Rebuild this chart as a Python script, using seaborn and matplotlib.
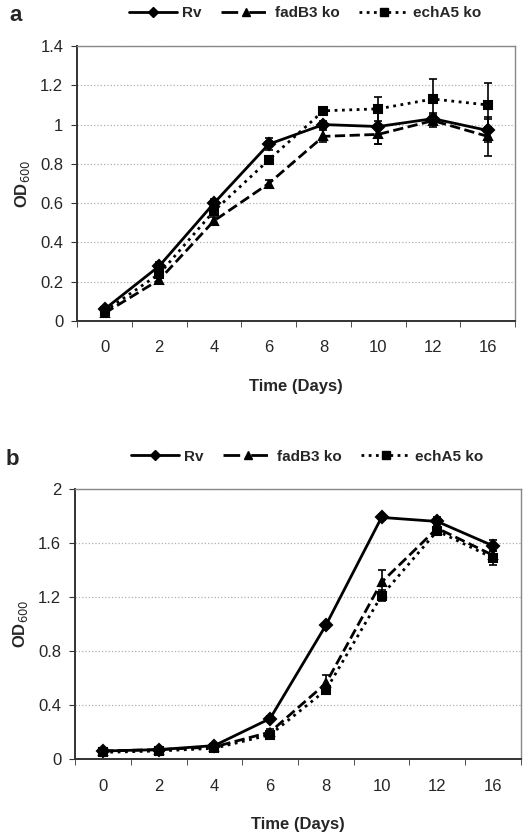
import numpy as np
import pandas as pd
import matplotlib
matplotlib.use('Agg')
import matplotlib.pyplot as plt
import seaborn as sns

days = ['0', '2', '4', '6', '8', '10', '12', '16']
strains = ['Rv', 'fadB3 ko', 'echA5 ko']

# panel a
a_rv = [0.06, 0.28, 0.60, 0.90, 1.00, 0.99, 1.03, 0.97]
a_fad = [0.04, 0.21, 0.51, 0.70, 0.94, 0.95, 1.02, 0.94]
a_ech = [0.05, 0.24, 0.56, 0.82, 1.07, 1.08, 1.13, 1.10]
a_rv_err = [0.01, 0.02, 0.02, 0.03, 0.02, 0.09, 0.03, 0.06]
a_fad_err = [0.01, 0.02, 0.02, 0.02, 0.03, 0.05, 0.03, 0.10]
a_ech_err = [0.01, 0.02, 0.02, 0.02, 0.02, 0.06, 0.10, 0.11]

# panel b
b_rv = [0.06, 0.07, 0.10, 0.30, 0.99, 1.79, 1.76, 1.58]
b_fad = [0.06, 0.07, 0.09, 0.20, 0.56, 1.31, 1.71, 1.51]
b_ech = [0.05, 0.06, 0.08, 0.18, 0.51, 1.21, 1.69, 1.49]
b_rv_err = [0.01, 0.01, 0.01, 0.02, 0.02, 0.02, 0.03, 0.04]
b_fad_err = [0.01, 0.01, 0.01, 0.02, 0.06, 0.09, 0.03, 0.05]
b_ech_err = [0.01, 0.01, 0.01, 0.02, 0.03, 0.04, 0.03, 0.05]

sns.set_style('white')
plt.rcParams['font.family'] = ['Liberation Sans', 'DejaVu Sans']

markers = ['D', '^', 's']
styles = ['-', (0, (6, 4)), (0, (1, 1.6))]
msizes = [6.5, 8, 7.5]


def panel(ax, vals, errs, ymax, ystep, letter):
    df = pd.DataFrame({
        'day': days * 3,
        'od': vals[0] + vals[1] + vals[2],
        'strain': [s for s in strains for _ in days],
    })
    sns.pointplot(data=df, x='day', y='od', hue='strain', order=days, hue_order=strains,
                  palette=['black'] * 3, markers=markers, linestyles=['-', '--', ':'],
                  linewidth=2.0, markersize=6, ax=ax, legend=False)
    for line, ls, ms in zip(ax.lines, styles, msizes):
        line.set_linestyle(ls)
        line.set_markersize(ms)
    pos = np.arange(len(days))
    for v, e in zip(vals, errs):
        ax.errorbar(pos, v, yerr=e, fmt='none', ecolor='black', elinewidth=1.2, capsize=3, capthick=1.2)
    ax.set_xlim(-0.5, len(days) - 0.5)
    ax.set_ylim(0, ymax)
    ax.set_yticks(np.arange(0, ymax + ystep / 2, ystep))
    ax.set_xticks(pos)
    ax.set_xticks(np.arange(-0.5, len(days), 1), minor=True)
    ax.tick_params(axis='x', which='major', length=0, pad=14, labelsize=12)
    ax.tick_params(axis='x', which='minor', length=4, direction='out', color='#333333', bottom=True)
    ax.tick_params(axis='y', length=4, direction='out', color='#333333', left=True, labelsize=12, pad=6)
    ax.yaxis.grid(True, color='#b0b0b0', linestyle=':', linewidth=0.9)
    ax.set_axisbelow(True)
    for side in ['top', 'right']:
        ax.spines[side].set_color('#888888')
        ax.spines[side].set_linewidth(1.0)
    for side in ['left', 'bottom']:
        ax.spines[side].set_color('#333333')
        ax.spines[side].set_linewidth(1.4)
    ax.set_xlabel('Time (Days)', fontsize=12, fontweight='bold', labelpad=17)
    ax.set_ylabel('OD$_{600}$', fontsize=12, fontweight='bold', labelpad=6)
    ax.text(-0.155, 1.11, letter, transform=ax.transAxes, fontsize=16, fontweight='bold', va='center')
    handles = [plt.Line2D([], [], color='black', linestyle=ls, marker=m, markersize=ms * 0.8, linewidth=2.0)
               for ls, m, ms in zip(styles, markers, msizes)]
    ax.legend(handles, strains, loc='center', bbox_to_anchor=(0.52, 1.12), ncol=3, frameon=False,
              handlelength=3.2, columnspacing=1.3, handletextpad=0.3, prop={'weight': 'bold', 'size': 11})


fig = plt.figure(figsize=(5.25, 8.36), dpi=100)
ax_a = fig.add_axes([0.147, 0.616, 0.834, 0.329])
ax_b = fig.add_axes([0.143, 0.092, 0.849, 0.323])

panel(ax_a, [a_rv, a_fad, a_ech], [a_rv_err, a_fad_err, a_ech_err], 1.4, 0.2, 'a')
panel(ax_b, [b_rv, b_fad, b_ech], [b_rv_err, b_fad_err, b_ech_err], 2.0, 0.4, 'b')

ax_a.set_yticklabels(['0', '0.2', '0.4', '0.6', '0.8', '1', '1.2', '1.4'])
ax_b.set_yticklabels(['0', '0.4', '0.8', '1.2', '1.6', '2'])

fig.savefig('out.png', dpi=100)
